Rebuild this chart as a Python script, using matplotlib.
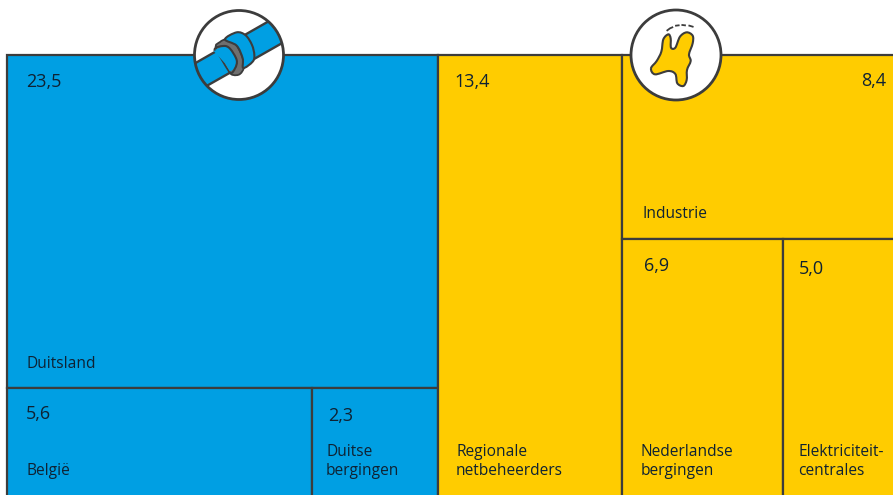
import matplotlib
matplotlib.use("Agg")
import matplotlib.pyplot as plt
from matplotlib.patches import Rectangle, Circle, Polygon, PathPatch
from matplotlib.path import Path
import numpy as np

plt.rcParams['font.family'] = ['Open Sans', 'DejaVu Sans']

blue_names = ['Duitsland', 'België', 'Duitse\nbergingen']
blue_values = [23.5, 5.6, 2.3]
yellow_names = ['Regionale\nnetbeheerders', 'Industrie', 'Nederlandse\nbergingen', 'Elektriciteit-\ncentrales']
yellow_values = [13.4, 8.4, 6.9, 5.0]

BLUE = '#009FE3'
YELLOW = '#FFCC00'
INK = '#3c3c3c'
TXT = '#0f2233'

fig = plt.figure(figsize=(8.93, 4.95), dpi=100)
ax = fig.add_axes([0, 0, 1, 1])
ax.set_xlim(0, 893)
ax.set_ylim(495, 0)
ax.axis('off')

X0, Y0 = 7.0, 55.0
UNIT_W = 13.72
H = 445.0


def rect(x, y, w, h, color):
    ax.add_patch(Rectangle((x, y), w, h, facecolor=color, edgecolor=INK, linewidth=1.6, zorder=2))


def fmt(v):
    return f'{v:.1f}'.replace('.', ',')


def value(x, y, v, ha='left'):
    ax.text(x, y, fmt(v), fontsize=13, color=TXT, ha=ha, va='center', zorder=3)


def label(x, y, s):
    ax.text(x, y, s, fontsize=11.2, color=TXT, ha='left', va='bottom', linespacing=1.22, zorder=3)


# blue block
bw = UNIT_W * sum(blue_values)
h0 = H * blue_values[0] / sum(blue_values)
rect(X0, Y0, bw, h0, BLUE)
low = blue_values[1] + blue_values[2]
w1 = bw * blue_values[1] / low
rect(X0, Y0 + h0, w1, H - h0, BLUE)
rect(X0 + w1, Y0 + h0, bw - w1, H - h0, BLUE)
value(26, 82, blue_values[0])
label(26, 372, blue_names[0])
value(26, 414, blue_values[1])
label(26, 479, blue_names[1])
value(328, 416, blue_values[2])
label(326, 479, blue_names[2])

# yellow block
x1 = X0 + bw
w_reg = UNIT_W * yellow_values[0]
rect(x1, Y0, w_reg, H, YELLOW)
x2 = x1 + w_reg
rest = sum(yellow_values[1:])
w_rest = UNIT_W * rest
h_ind = H * yellow_values[1] / rest
rect(x2, Y0, w_rest, h_ind, YELLOW)
w_ned = w_rest * yellow_values[2] / (yellow_values[2] + yellow_values[3])
rect(x2, Y0 + h_ind, w_ned, H - h_ind, YELLOW)
rect(x2 + w_ned, Y0 + h_ind, w_rest - w_ned, H - h_ind, YELLOW)
value(454, 82, yellow_values[0])
label(456, 479, yellow_names[0])
value(886, 81, yellow_values[1], ha='right')
label(642, 222, yellow_names[1])
value(644, 266, yellow_values[2])
label(641, 479, yellow_names[2])
value(799, 269, yellow_values[3])
label(798, 479, yellow_names[3])


def smooth(points, off, closed=True):
    pts = np.array(points, dtype=float) / 3 + off
    n = len(pts)
    verts = [tuple(pts[0])]
    codes = [Path.MOVETO]
    last = n if closed else n - 1
    for i in range(last):
        p0, p1, p2, p3 = pts[(i - 1) % n], pts[i], pts[(i + 1) % n], pts[(i + 2) % n]
        verts += [tuple(p1 + (p2 - p0) / 6), tuple(p2 - (p3 - p1) / 6), tuple(p2)]
        codes += [Path.CURVE4] * 3
    return Path(verts, codes)


# pipe icon (shapes given in crop coordinates of the reference)
off1 = np.array([180.0, 0.0])
ax.add_patch(Circle((239, 55), 44.5, facecolor='white', edgecolor='none', zorder=4))
clip1 = Circle((239, 55), 44.5, transform=ax.transData)
band = Polygon(np.array([(15, 207), (285, 53), (335, 113), (55, 272)]) / 3 + off1, closed=True,
               facecolor=BLUE, edgecolor=INK, linewidth=1.7, zorder=5)
ax.add_patch(band)
band.set_clip_path(clip1)
ax.add_patch(Circle((239, 55), 44.5, facecolor='none', edgecolor=INK, linewidth=2.0, zorder=6))
ax.add_patch(PathPatch(smooth([(108, 145), (120, 126), (140, 118), (165, 130), (185, 165), (192, 200),
                               (180, 222), (160, 225), (146, 213)], off1),
                       facecolor='#6f6f6f', edgecolor=INK, linewidth=1.3, zorder=7))
ax.add_patch(Polygon(np.array([(100, 152), (130, 138), (150, 145), (170, 180), (165, 205), (150, 215),
                               (135, 190)]) / 3 + off1, closed=True, facecolor=BLUE, edgecolor='none', zorder=7.5))
ax.add_patch(PathPatch(smooth([(104, 152), (130, 138), (150, 146), (170, 180), (165, 205), (148, 216)], off1,
                              closed=False), facecolor='none', edgecolor=INK, linewidth=1.5, zorder=8))
ax.add_patch(PathPatch(smooth([(135, 118), (170, 97), (197, 106), (216, 135), (223, 165), (218, 185),
                               (190, 204), (188, 175), (170, 137)], off1),
                       facecolor=BLUE, edgecolor=INK, linewidth=1.5, zorder=9))

# map icon
off2 = np.array([620.0, 5.0])
ax.add_patch(Circle((676, 55), 45, facecolor='white', edgecolor=INK, linewidth=2.0, zorder=4))
map_zoom = [(93, 190), (110, 168), (124, 140), (130, 103), (145, 88), (152, 100), (153, 128), (166, 128),
            (180, 95), (200, 82), (218, 92), (218, 115), (207, 148), (212, 168), (201, 195), (200, 225),
            (190, 243), (172, 235), (166, 207), (145, 198), (105, 208)]
ax.add_patch(PathPatch(smooth(map_zoom, off2), facecolor=YELLOW, edgecolor=INK, linewidth=1.5, zorder=5))
for seg in [[(142, 76), (150, 70), (157, 67)], [(168, 62), (176, 61)], [(187, 60), (195, 61)], [(208, 62), (218, 65)]]:
    s = np.array(seg) / 3 + off2
    ax.plot(s[:, 0], s[:, 1], color=INK, lw=1.3, zorder=5)

fig.savefig('out.png', dpi=100)
